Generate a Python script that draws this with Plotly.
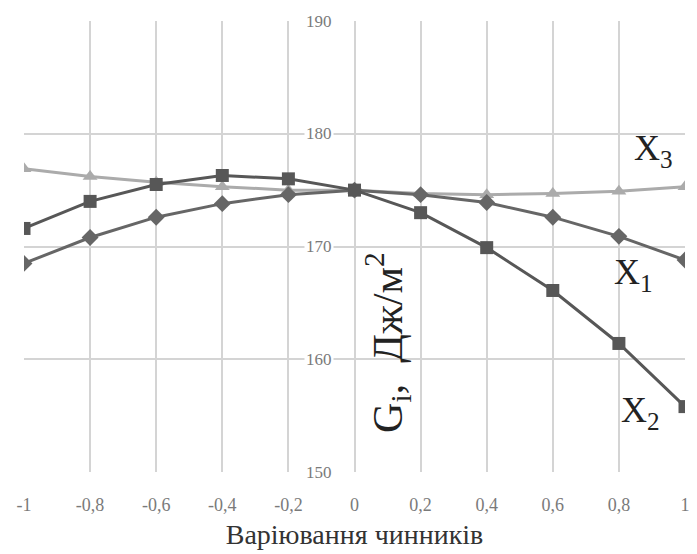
import plotly.graph_objects as go

x_vals = [-1, -0.8, -0.6, -0.4, -0.2, 0, 0.2, 0.4, 0.6, 0.8, 1]
x1_vals = [168.5, 170.8, 172.6, 173.8, 174.6, 175.0, 174.6, 173.9, 172.6, 170.9, 168.8]
x2_vals = [171.6, 174.0, 175.5, 176.3, 176.0, 175.0, 173.0, 169.9, 166.1, 161.4, 155.8]
x3_vals = [176.9, 176.2, 175.7, 175.3, 175.0, 175.0, 174.7, 174.6, 174.7, 174.9, 175.3]

x_tick_vals = [-1, -0.8, -0.6, -0.4, -0.2, 0, 0.2, 0.4, 0.6, 0.8, 1]
x_tick_text = ["-1", "-0,8", "-0,6", "-0,4", "-0,2", "0", "0,2", "0,4", "0,6", "0,8", "1"]
y_tick_vals = [150, 160, 170, 180, 190]
y_tick_text = ["150", "160", "170", "180", "190"]

series_labels = ["X<sub>1</sub>", "X<sub>2</sub>", "X<sub>3</sub>"]
label_pos = [(0.78, 167.5), (0.80, 155.3), (0.84, 178.5)]

SERIF = "Liberation Serif"

fig = go.Figure()
fig.add_trace(go.Scatter(x=x_vals, y=x3_vals, mode="lines+markers",
                         line=dict(color="#ababab", width=3),
                         marker=dict(symbol="triangle-up", size=13, color="#ababab"),
                         name="X3"))
fig.add_trace(go.Scatter(x=x_vals, y=x1_vals, mode="lines+markers",
                         line=dict(color="#666666", width=3),
                         marker=dict(symbol="diamond", size=13, color="#666666"),
                         name="X1"))
fig.add_trace(go.Scatter(x=x_vals, y=x2_vals, mode="lines+markers",
                         line=dict(color="#575757", width=3),
                         marker=dict(symbol="square", size=13, color="#575757"),
                         name="X2"))

# y tick labels drawn beside the x=0 axis
for v, t in zip(y_tick_vals, y_tick_text):
    fig.add_annotation(x=0, y=v, text=t, showarrow=False, xanchor="right", yanchor="middle",
                       xshift=-21,
                       font=dict(family=SERIF, size=17, color="#7a7a7a"),
                       bgcolor="white", borderpad=1)

for lab, (lx, ly) in zip(series_labels, label_pos):
    fig.add_annotation(x=lx, y=ly, text=lab, showarrow=False, xanchor="left", yanchor="middle",
                       font=dict(family=SERIF, size=36, color="#222222"))

fig.add_annotation(x=0.10, y=161.5, text="G<sub>i</sub>,  Дж/м<sup>2</sup>", textangle=-90,
                   showarrow=False, xanchor="center", yanchor="middle",
                   font=dict(family=SERIF, size=42, color="#222222"))

fig.update_layout(
    width=697, height=554,
    margin=dict(l=24, r=7, t=21, b=82),
    paper_bgcolor="white", plot_bgcolor="white",
    showlegend=False,
    xaxis=dict(range=[-1, 1], tickvals=x_tick_vals, ticktext=x_tick_text,
               showgrid=True, gridcolor="#d4d4d4", gridwidth=2, zeroline=False,
               showline=False, ticks="outside", ticklen=16, tickcolor="rgba(0,0,0,0)",
               tickfont=dict(family=SERIF, size=18, color="#7a7a7a"),
               title=dict(text="Варіювання чинників", standoff=10,
                          font=dict(family=SERIF, size=28, color="#333333"))),
    yaxis=dict(range=[150, 190], tickvals=y_tick_vals, showticklabels=False,
               showgrid=True, gridcolor="#d4d4d4", gridwidth=2, zeroline=False,
               showline=False, ticks=""),
)

fig.write_html("out.html")
